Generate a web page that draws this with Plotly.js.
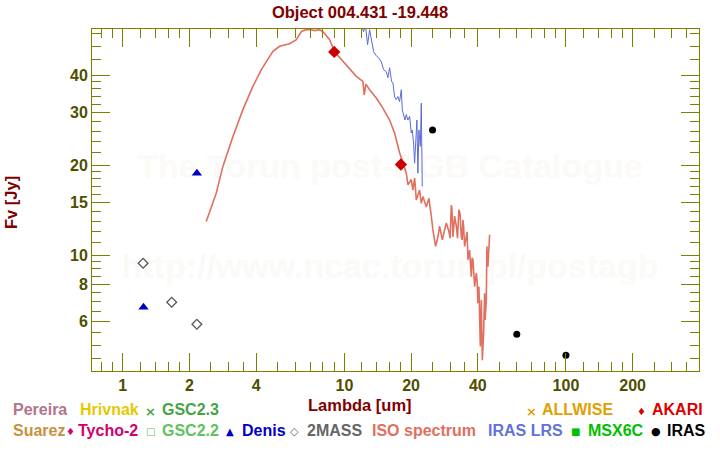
<!DOCTYPE html>
<html><head><meta charset="utf-8">
<script src="https://cdn.plot.ly/plotly-3.0.1.min.js"></script>
<style>html,body{margin:0;padding:0;background:#fff}#chart{width:720px;height:450px}</style>
</head><body><div id="chart"></div>
<script>
const FONT = 'Liberation Sans, Arial, Helvetica, sans-serif';
const titleText = 'Object 004.431 -19.448';
const xTitle = 'Lambda [um]';
const yTitle = 'Fv [Jy]';
const watermark1 = 'The Torun post-AGB Catalogue';
const watermark2 = 'http://www.ncac.torun.pl/postagb';

const xTickVals = [1, 2, 4, 10, 20, 40, 100, 200];
const xTickText = ['1', '2', '4', '10', '20', '40', '100', '200'];
const xMinorVals = [0.8, 0.9, 1.2, 1.4, 1.6, 1.8, 2.5, 3, 3.5, 5, 6, 7, 8, 9, 12, 14, 16, 18, 25, 30, 35, 50, 60, 70, 80, 90, 120, 140, 160, 180, 250, 300, 350];
const yTickVals = [6, 8, 10, 15, 20, 30, 40];
const yTickText = ['6', '8', '10', '15', '20', '30', '40'];
const yMinorVals = [4.5, 5, 5.5, 6.5, 7, 7.5, 8.5, 9, 9.5, 11, 12, 13, 14, 16, 17, 18, 19, 22, 24, 26, 28, 32, 34, 36, 38, 45, 50, 55];

// ISO spectrum
const isoWave = [2.38, 2.64, 2.83, 3.14, 3.48, 3.86, 4.22, 4.76, 5.10, 5.66, 6.07, 6.39, 6.61, 6.97, 7.34, 7.73, 8.00, 8.58, 9.03, 9.84, 10.56, 11.32, 12.12, 12.3, 12.5, 13.0, 13.93, 14.92, 16.0, 16.85, 17.75, 18.3,
  19.03, 19.35, 20.04, 20.38, 20.75, 21.12, 21.85, 22.24, 22.62, 23.43, 24.07, 24.68, 25.09, 25.80, 26.43, 26.90, 27.67, 28.34, 28.84, 29.64, 30.0, 30.39, 30.6, 30.90, 31.45, 32.0, 32.4, 32.88, 33.3, 33.71, 34.0, 34.28, 34.5, 34.89, 35.51, 35.8, 36.11, 36.75, 37.40, 37.7, 38.03, 38.71, 39.40, 39.7, 40.06, 40.48, 41.07, 41.3, 41.50, 41.94, 42.2, 42.50, 42.95, 43.2, 43.71, 43.98, 44.45, 44.92, 45.25];
const isoFlux = [12.95, 16.1, 19.8, 24.9, 30.6, 36.6, 41.7, 48.0, 49.9, 50.9, 52.5, 55.9, 56.5, 56.8, 56.3, 56.7, 55.9, 52.5, 47.8, 44.4, 41.7, 39.6, 38.1, 34.3, 37.3, 35.7, 33.5, 31.0, 28.3, 25.6, 22.0, 20.4,
  18.8, 17.2, 17.9, 16.5, 18.1, 15.3, 16.5, 14.9, 15.7, 14.5, 15.5, 13.5, 12.15, 10.7, 11.5, 12.5, 11.25, 12.15, 12.8, 12.0, 11.4, 14.7, 14.2, 11.5, 13.5, 12.5, 11.4, 14.2, 13.7, 11.5, 11.25, 13.1, 12.6, 10.7, 11.5, 11.97, 9.65, 10.4, 8.48, 9.79, 9.65, 7.85, 8.71, 8.27, 6.91, 7.85, 4.95, 5.63, 7.09, 4.46, 4.82, 5.48, 7.46, 6.08, 7.09, 10.7, 9.16, 10.4, 11.7];

// IRAS LRS
const lrsWave = [11.92, 12.21, 12.46, 12.73, 13.0, 13.27, 13.55, 13.93, 14.27, 14.68, 15.03, 15.46, 15.72, 16.0, 16.34, 16.56, 16.85, 17.15, 17.44, 17.75, 18.07, 18.26, 18.51, 18.76, 19.03, 19.35, 19.70, 20.04, 20.25, 20.53, 20.75, 20.96, 21.25, 21.47, 21.70, 22.02, 22.24, 22.47];
const lrsFlux = [58.9, 55.8, 58.5, 50.5, 56.7, 51.7, 47.9, 46.4, 45.7, 44.3, 41.7, 41.0, 39.2, 42.3, 38.0, 37.7, 33.8, 33.1, 33.9, 32.6, 35.7, 30.6, 29.1, 28.3, 29.5, 28.3, 29.1, 25.6, 26.2, 23.7, 20.3, 24.9, 28.3, 18.8, 26.2, 23.1, 32.2, 16.97];

const denisWave = [1.24, 2.16];
const denisFlux = [6.7, 18.8];
const twomassWave = [1.235, 1.662, 2.159];
const twomassFlux = [9.4, 6.96, 5.88];
const akariWave = [9.0, 18.0];
const akariFlux = [47.8, 20.1];
const irasWave = [25, 60, 100];
const irasFlux = [26.2, 5.44, 4.63];

// legend labels
const legendNames = ['Pereira', 'Hrivnak', 'GSC2.3', 'ALLWISE', 'AKARI', 'Suarez', 'Tycho-2', 'GSC2.2', 'Denis', '2MASS', 'ISO spectrum', 'IRAS LRS', 'MSX6C', 'IRAS'];
const legendSymbols = ['', '', '\u00d7', '\u00d7', '\u2666', '', '\u2666', '\u25a1', '\u25b2', '\u25c7', '', '', '\u25a0', '\u25cf'];
const legendColors = ['#b4738c', '#e6c800', '#44a544', '#e0a000', '#dd0000', '#c8913f', '#d4006e', '#5fc35f', '#0000c8', '#666666', '#e07060', '#6272d8', '#00c000', '#000000'];

// ---- layout helpers ----
const L = 92, R = 21, T = 29, B = 79, W = 720, H = 450;
const pw = W - L - R, ph = H - T - B;
const px = v => (v - L) / pw;
const py = v => (H - B - v) / ph;

const legendTextX = [10.7, 77.7, 160, 540, 650, 10.7, 75.5, 160, 240, 305, 370, 486, 586, 665];
const legendSymX = [0, 0, 150, 531, 641, 0, 70.5, 150.5, 230, 294, 0, 0, 575, 656];
const legendRowY = [410, 410, 410, 410, 410, 430.5, 430.5, 430.5, 430.5, 430.5, 430.5, 430.5, 430.5, 430.5];
const symSize = {'\u00d7': 13, '\u2666': 10, '\u25a1': 10, '\u25b2': 10, '\u25c7': 11, '\u25a0': 10, '\u25cf': 11};

const annotations = [];
legendNames.forEach((n, i) => {
  annotations.push({xref: 'paper', yref: 'paper', x: px(legendTextX[i]), y: py(legendRowY[i]), xanchor: 'left', yanchor: 'middle',
    text: n, showarrow: false, font: {family: FONT, size: 16, color: legendColors[i], weight: 'bold'}});
  if (legendSymbols[i]) {
    annotations.push({xref: 'paper', yref: 'paper', x: px(legendSymX[i]), y: py(legendRowY[i] + 1), xanchor: 'center', yanchor: 'middle',
      text: legendSymbols[i], showarrow: false, font: {family: 'DejaVu Sans, ' + FONT, size: symSize[legendSymbols[i]], color: legendColors[i], weight: 'bold'}});
  }
});
annotations.push({xref: 'paper', yref: 'paper', x: px(360), y: py(405), xanchor: 'center', yanchor: 'middle',
  text: xTitle, showarrow: false, font: {family: FONT, size: 16.5, color: '#800000', weight: 'bold'}});
annotations.push({xref: 'paper', yref: 'paper', x: px(11), y: py(203), xanchor: 'center', yanchor: 'middle', textangle: -90,
  text: yTitle, showarrow: false, font: {family: FONT, size: 16.5, color: '#800000', weight: 'bold'}});

const shapes = [
  {type: 'rect', xref: 'paper', yref: 'paper', x0: px(100), x1: px(680), y0: py(185), y1: py(141), layer: 'below',
   line: {width: 0}, fillcolor: 'rgba(0,0,0,0)',
   label: {text: watermark1, textposition: 'middle center', font: {family: FONT, size: 34, color: '#fcfaf7', weight: 'bold'}}},
  {type: 'rect', xref: 'paper', yref: 'paper', x0: px(100), x1: px(680), y0: py(285), y1: py(241), layer: 'below',
   line: {width: 0}, fillcolor: 'rgba(0,0,0,0)',
   label: {text: watermark2, textposition: 'middle center', font: {family: FONT, size: 34, color: '#fcfaf7', weight: 'bold'}}}
];

const AX = '#808000';
const tickFont = {family: FONT, size: 16, color: '#4f4f00', weight: 'bold'};

const traces = [
  {x: isoWave, y: isoFlux, type: 'scatter', mode: 'lines', line: {color: '#e07060', width: 1.6}, name: 'ISO spectrum'},
  {x: lrsWave, y: lrsFlux, type: 'scatter', mode: 'lines', line: {color: '#5b6bd8', width: 1}, name: 'IRAS LRS'},
  {x: twomassWave, y: twomassFlux, type: 'scatter', mode: 'markers', marker: {symbol: 'diamond-open', size: 7.5, color: '#555555', line: {width: 1.3, color: '#555555'}}, name: '2MASS'},
  {x: denisWave, y: denisFlux, type: 'scatter', mode: 'markers', marker: {symbol: 'triangle-up', size: 9, color: '#0000c0'}, name: 'Denis'},
  {x: akariWave, y: akariFlux, type: 'scatter', mode: 'markers', marker: {symbol: 'diamond', size: 9.5, color: '#cc0000'}, name: 'AKARI'},
  {x: irasWave, y: irasFlux, type: 'scatter', mode: 'markers', marker: {symbol: 'circle', size: 7, color: '#000000'}, name: 'IRAS'}
];

const axisCommon = {
  type: 'log', showgrid: false, zeroline: false, showline: true, linecolor: AX, linewidth: 1,
  mirror: 'allticks', ticks: 'inside', ticklen: 18, tickwidth: 1, tickcolor: AX, tickmode: 'array', tickfont: tickFont
};

const layout = {
  width: W, height: H, margin: {l: L, r: R, t: T, b: B, pad: 0},
  paper_bgcolor: '#ffffff', plot_bgcolor: 'rgba(0,0,0,0)',
  showlegend: false,
  title: {text: titleText, x: 0.5, xref: 'container', xanchor: 'center', y: 1 - 12 / H, yref: 'container', yanchor: 'middle',
    font: {family: FONT, size: 16.5, color: '#800000', weight: 'bold'}},
  xaxis: Object.assign({}, axisCommon, {range: [-0.139, 2.6005], tickvals: xTickVals, ticktext: xTickText,
    minor: {tickmode: 'array', tickvals: xMinorVals, ticks: 'inside', ticklen: 9, tickwidth: 1, tickcolor: AX}}),
  yaxis: Object.assign({}, axisCommon, {range: [0.613, 1.7559], tickvals: yTickVals, ticktext: yTickText,
    minor: {tickmode: 'array', tickvals: yMinorVals, ticks: 'inside', ticklen: 9, tickwidth: 1, tickcolor: AX}}),
  annotations: annotations,
  shapes: shapes
};

Plotly.newPlot('chart', traces, layout, {staticPlot: true, displayModeBar: false});
</script>
</body></html>
